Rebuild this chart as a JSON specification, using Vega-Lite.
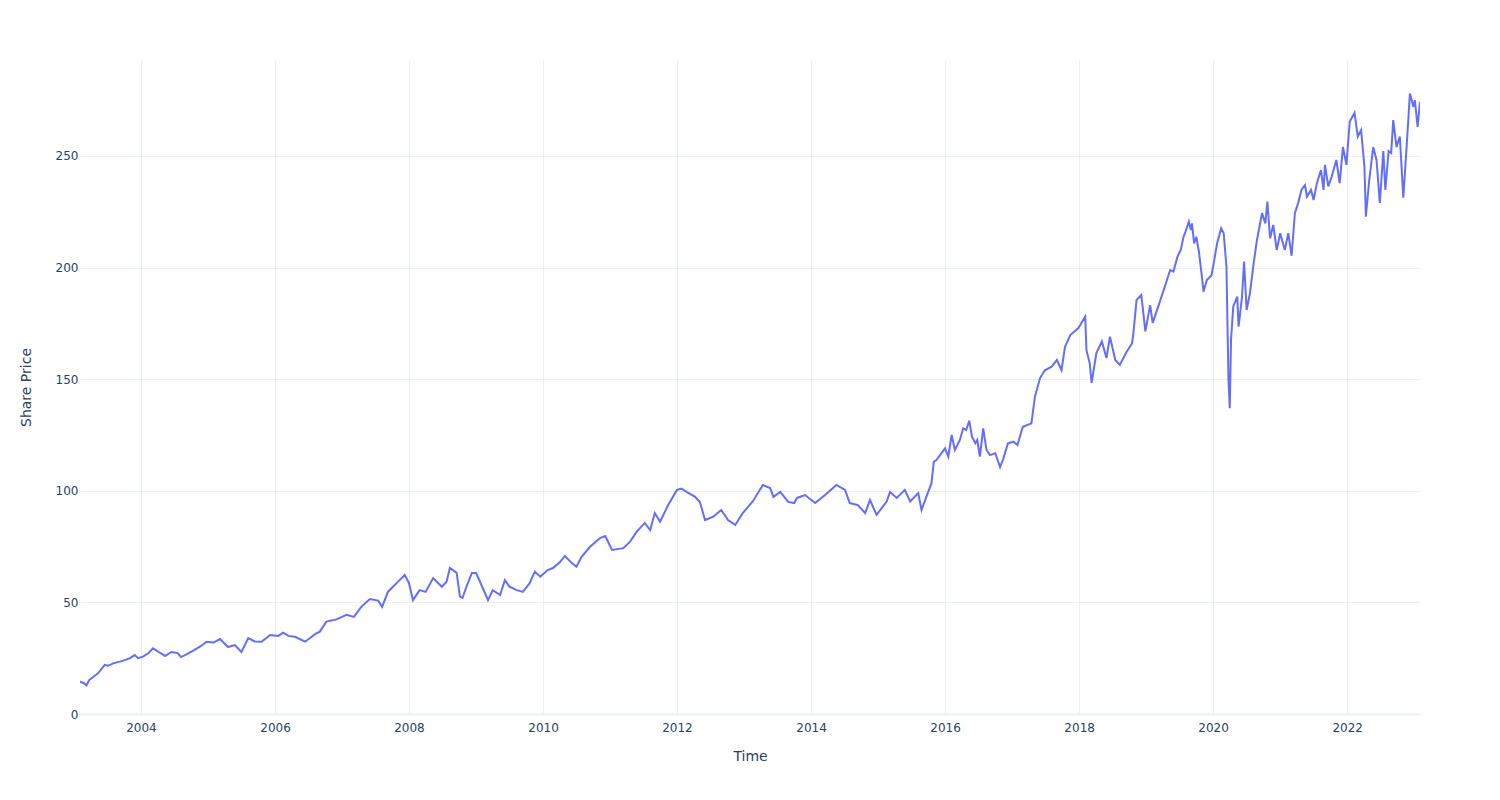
{
  "$schema": "https://vega.github.io/schema/vega-lite/v6.json",
  "autosize": {"type": "none"},
  "width": 1340,
  "height": 654,
  "padding": {"left": 80, "top": 60, "right": 80, "bottom": 86},
  "background": "white",
  "config": {
    "view": {"stroke": null},
    "font": "DejaVu Sans",
    "axis": {
      "labelFont": "DejaVu Sans",
      "titleFont": "DejaVu Sans",
      "labelColor": "#2a3f5f",
      "titleColor": "#2a3f5f",
      "labelFontSize": 12,
      "titleFontSize": 14,
      "titleFontWeight": "normal",
      "gridColor": "#EBF0F8",
      "gridWidth": 1,
      "ticks": false
    }
  },
  "data": {
    "values": [
      {"date": "2003-02-03", "price": 14.5},
      {"date": "2003-02-25", "price": 13.8},
      {"date": "2003-03-10", "price": 12.8},
      {"date": "2003-03-25", "price": 15.2},
      {"date": "2003-05-12", "price": 18.2},
      {"date": "2003-06-18", "price": 22},
      {"date": "2003-07-05", "price": 21.6},
      {"date": "2003-08-03", "price": 22.7},
      {"date": "2003-09-27", "price": 23.9},
      {"date": "2003-11-03", "price": 25},
      {"date": "2003-11-28", "price": 26.4},
      {"date": "2003-12-17", "price": 25},
      {"date": "2004-01-12", "price": 25.7},
      {"date": "2004-02-10", "price": 27.2},
      {"date": "2004-03-07", "price": 29.4},
      {"date": "2004-04-05", "price": 27.9},
      {"date": "2004-05-12", "price": 26},
      {"date": "2004-06-14", "price": 27.8},
      {"date": "2004-07-20", "price": 27.3},
      {"date": "2004-08-07", "price": 25.5},
      {"date": "2004-09-13", "price": 27},
      {"date": "2004-10-19", "price": 28.7},
      {"date": "2004-11-24", "price": 30.5},
      {"date": "2004-12-24", "price": 32.4},
      {"date": "2005-01-30", "price": 32},
      {"date": "2005-03-07", "price": 33.6},
      {"date": "2005-04-20", "price": 30},
      {"date": "2005-05-27", "price": 30.9},
      {"date": "2005-07-02", "price": 27.8},
      {"date": "2005-08-08", "price": 34},
      {"date": "2005-09-13", "price": 32.5},
      {"date": "2005-10-19", "price": 32.4},
      {"date": "2005-12-06", "price": 35.4},
      {"date": "2006-01-19", "price": 35},
      {"date": "2006-02-14", "price": 36.4},
      {"date": "2006-03-15", "price": 35},
      {"date": "2006-04-20", "price": 34.6},
      {"date": "2006-06-14", "price": 32.4},
      {"date": "2006-07-20", "price": 34.6},
      {"date": "2006-08-07", "price": 35.8},
      {"date": "2006-09-02", "price": 36.9},
      {"date": "2006-10-08", "price": 41.4},
      {"date": "2006-12-02", "price": 42.4},
      {"date": "2007-01-01", "price": 43.5},
      {"date": "2007-01-26", "price": 44.4},
      {"date": "2007-03-07", "price": 43.5},
      {"date": "2007-04-16", "price": 48},
      {"date": "2007-06-02", "price": 51.5},
      {"date": "2007-07-17", "price": 50.8},
      {"date": "2007-08-08", "price": 48},
      {"date": "2007-09-09", "price": 54.8},
      {"date": "2007-11-03", "price": 59.3},
      {"date": "2007-12-09", "price": 62.3},
      {"date": "2008-01-01", "price": 58.7},
      {"date": "2008-01-23", "price": 51},
      {"date": "2008-02-28", "price": 55.5},
      {"date": "2008-04-01", "price": 54.7},
      {"date": "2008-05-12", "price": 60.9},
      {"date": "2008-06-28", "price": 57},
      {"date": "2008-07-24", "price": 59.3},
      {"date": "2008-08-11", "price": 65.4},
      {"date": "2008-09-17", "price": 63.2},
      {"date": "2008-10-05", "price": 52.6},
      {"date": "2008-10-19", "price": 52},
      {"date": "2008-11-14", "price": 58},
      {"date": "2008-12-09", "price": 63.2},
      {"date": "2009-01-01", "price": 63.2},
      {"date": "2009-01-30", "price": 57.8},
      {"date": "2009-03-07", "price": 51},
      {"date": "2009-04-02", "price": 55.5},
      {"date": "2009-05-12", "price": 53.3},
      {"date": "2009-06-07", "price": 60},
      {"date": "2009-07-02", "price": 57},
      {"date": "2009-08-11", "price": 55.5},
      {"date": "2009-09-13", "price": 54.7},
      {"date": "2009-10-19", "price": 58.5},
      {"date": "2009-11-17", "price": 63.8},
      {"date": "2009-12-17", "price": 61.5},
      {"date": "2010-01-26", "price": 64.5},
      {"date": "2010-02-24", "price": 65.4},
      {"date": "2010-04-02", "price": 68},
      {"date": "2010-04-30", "price": 70.8},
      {"date": "2010-06-07", "price": 67.6},
      {"date": "2010-07-02", "price": 66},
      {"date": "2010-07-31", "price": 70.5},
      {"date": "2010-09-13", "price": 74.8},
      {"date": "2010-11-07", "price": 78.8},
      {"date": "2010-12-06", "price": 79.7},
      {"date": "2011-01-12", "price": 73.5},
      {"date": "2011-03-15", "price": 74.3},
      {"date": "2011-04-20", "price": 77.2},
      {"date": "2011-05-27", "price": 81.7},
      {"date": "2011-07-09", "price": 85.6},
      {"date": "2011-08-08", "price": 82.4},
      {"date": "2011-09-02", "price": 90},
      {"date": "2011-10-01", "price": 86.2},
      {"date": "2011-11-14", "price": 93.6},
      {"date": "2012-01-01", "price": 100.4},
      {"date": "2012-01-26", "price": 101},
      {"date": "2012-02-22", "price": 99.5},
      {"date": "2012-04-09", "price": 97.3},
      {"date": "2012-05-05", "price": 95},
      {"date": "2012-06-02", "price": 86.9},
      {"date": "2012-07-17", "price": 88.4},
      {"date": "2012-08-29", "price": 91.4},
      {"date": "2012-10-05", "price": 86.9},
      {"date": "2012-11-14", "price": 84.7},
      {"date": "2012-12-24", "price": 90},
      {"date": "2013-02-17", "price": 95.2},
      {"date": "2013-04-13", "price": 102.6},
      {"date": "2013-05-23", "price": 101.2},
      {"date": "2013-06-10", "price": 97.3},
      {"date": "2013-07-17", "price": 99.5},
      {"date": "2013-08-29", "price": 95},
      {"date": "2013-10-01", "price": 94.5},
      {"date": "2013-10-16", "price": 96.8},
      {"date": "2013-11-29", "price": 98.1},
      {"date": "2014-01-23", "price": 94.5},
      {"date": "2014-03-18", "price": 98.1},
      {"date": "2014-05-19", "price": 102.6},
      {"date": "2014-07-05", "price": 100.4},
      {"date": "2014-07-31", "price": 94.5},
      {"date": "2014-09-13", "price": 93.6},
      {"date": "2014-10-23", "price": 90},
      {"date": "2014-11-18", "price": 95.9},
      {"date": "2014-12-24", "price": 89.2},
      {"date": "2015-02-17", "price": 95.2},
      {"date": "2015-03-07", "price": 99.5},
      {"date": "2015-04-13", "price": 96.8},
      {"date": "2015-05-27", "price": 100.4},
      {"date": "2015-06-25", "price": 95.2},
      {"date": "2015-08-08", "price": 99},
      {"date": "2015-08-26", "price": 91.4},
      {"date": "2015-09-21", "price": 97.3},
      {"date": "2015-10-19", "price": 103.3},
      {"date": "2015-11-01", "price": 113},
      {"date": "2015-11-15", "price": 113.8},
      {"date": "2015-12-13", "price": 116.9},
      {"date": "2016-01-01", "price": 119},
      {"date": "2016-01-19", "price": 115.3},
      {"date": "2016-02-06", "price": 125},
      {"date": "2016-02-24", "price": 118.3},
      {"date": "2016-03-22", "price": 122.8},
      {"date": "2016-04-09", "price": 128},
      {"date": "2016-04-25", "price": 127.2},
      {"date": "2016-05-12", "price": 131.4},
      {"date": "2016-05-27", "price": 124.2},
      {"date": "2016-06-14", "price": 121.3},
      {"date": "2016-06-25", "price": 122.8},
      {"date": "2016-07-09", "price": 115.3},
      {"date": "2016-07-27", "price": 128},
      {"date": "2016-08-14", "price": 118.3},
      {"date": "2016-09-02", "price": 116},
      {"date": "2016-10-01", "price": 116.8},
      {"date": "2016-10-27", "price": 110.6},
      {"date": "2016-11-14", "price": 114.4},
      {"date": "2016-12-09", "price": 121.3},
      {"date": "2017-01-08", "price": 122},
      {"date": "2017-01-30", "price": 120.5},
      {"date": "2017-02-28", "price": 128.7},
      {"date": "2017-04-16", "price": 130.2},
      {"date": "2017-05-05", "price": 142.2},
      {"date": "2017-06-02", "price": 150.5},
      {"date": "2017-06-28", "price": 154},
      {"date": "2017-08-04", "price": 155.6},
      {"date": "2017-09-02", "price": 158.6},
      {"date": "2017-09-27", "price": 154},
      {"date": "2017-10-16", "price": 164.5},
      {"date": "2017-11-14", "price": 169.8},
      {"date": "2017-12-28", "price": 172.9},
      {"date": "2018-02-03", "price": 178},
      {"date": "2018-02-10", "price": 163},
      {"date": "2018-02-28", "price": 157},
      {"date": "2018-03-10", "price": 148.3},
      {"date": "2018-04-05", "price": 161.7},
      {"date": "2018-05-05", "price": 166.9},
      {"date": "2018-05-30", "price": 159.5},
      {"date": "2018-06-18", "price": 169},
      {"date": "2018-07-17", "price": 158.6},
      {"date": "2018-08-11", "price": 156.4},
      {"date": "2018-09-17", "price": 162.3},
      {"date": "2018-10-16", "price": 166},
      {"date": "2018-10-23", "price": 169.8},
      {"date": "2018-11-10", "price": 185.5},
      {"date": "2018-12-06", "price": 187.7},
      {"date": "2018-12-28", "price": 171.4},
      {"date": "2019-01-23", "price": 183.2},
      {"date": "2019-02-06", "price": 175.2},
      {"date": "2019-03-18", "price": 185},
      {"date": "2019-04-13", "price": 191.4},
      {"date": "2019-05-12", "price": 198.9},
      {"date": "2019-05-30", "price": 198.2},
      {"date": "2019-06-21", "price": 204.9},
      {"date": "2019-07-09", "price": 207.9},
      {"date": "2019-07-24", "price": 213.8},
      {"date": "2019-08-01", "price": 215.4},
      {"date": "2019-08-22", "price": 220.6},
      {"date": "2019-09-02", "price": 216.8},
      {"date": "2019-09-08", "price": 219.8},
      {"date": "2019-09-20", "price": 210.8},
      {"date": "2019-10-02", "price": 213.8},
      {"date": "2019-10-16", "price": 207.1},
      {"date": "2019-10-30", "price": 197.4},
      {"date": "2019-11-10", "price": 189.2},
      {"date": "2019-11-28", "price": 194.4},
      {"date": "2019-12-24", "price": 196.6},
      {"date": "2020-01-23", "price": 210.8},
      {"date": "2020-02-14", "price": 217.6},
      {"date": "2020-02-28", "price": 215.4},
      {"date": "2020-03-14", "price": 200.4},
      {"date": "2020-03-25", "price": 149.6},
      {"date": "2020-04-01", "price": 137},
      {"date": "2020-04-08", "price": 167.6},
      {"date": "2020-04-20", "price": 182.5},
      {"date": "2020-05-12", "price": 187},
      {"date": "2020-05-19", "price": 173.6},
      {"date": "2020-06-07", "price": 187},
      {"date": "2020-06-18", "price": 202.7},
      {"date": "2020-07-02", "price": 181},
      {"date": "2020-07-20", "price": 188.5},
      {"date": "2020-08-07", "price": 200.4},
      {"date": "2020-08-26", "price": 211.7},
      {"date": "2020-09-24", "price": 224.4},
      {"date": "2020-10-12", "price": 219.8},
      {"date": "2020-10-23", "price": 229.6},
      {"date": "2020-11-07", "price": 213.1},
      {"date": "2020-11-24", "price": 219.1},
      {"date": "2020-12-13", "price": 207.9},
      {"date": "2021-01-01", "price": 215.4},
      {"date": "2021-01-26", "price": 207.9},
      {"date": "2021-02-14", "price": 215.4},
      {"date": "2021-03-04", "price": 205.3},
      {"date": "2021-03-15", "price": 216.8},
      {"date": "2021-03-22", "price": 224.4},
      {"date": "2021-04-09", "price": 229},
      {"date": "2021-04-27", "price": 234.8},
      {"date": "2021-05-16", "price": 237},
      {"date": "2021-05-27", "price": 231.8},
      {"date": "2021-06-18", "price": 234.8},
      {"date": "2021-07-02", "price": 230.3},
      {"date": "2021-07-20", "price": 237.8},
      {"date": "2021-08-11", "price": 243.7},
      {"date": "2021-08-25", "price": 234.8},
      {"date": "2021-09-02", "price": 246},
      {"date": "2021-09-20", "price": 236.4},
      {"date": "2021-10-08", "price": 240.6},
      {"date": "2021-11-03", "price": 248.2},
      {"date": "2021-11-21", "price": 237.8},
      {"date": "2021-12-09", "price": 254},
      {"date": "2021-12-28", "price": 246},
      {"date": "2022-01-15", "price": 265.4},
      {"date": "2022-02-10", "price": 269.3},
      {"date": "2022-02-28", "price": 258.7},
      {"date": "2022-03-18", "price": 261.6},
      {"date": "2022-04-05", "price": 245.3},
      {"date": "2022-04-13", "price": 222.8},
      {"date": "2022-05-01", "price": 239},
      {"date": "2022-05-23", "price": 254},
      {"date": "2022-06-10", "price": 248.2},
      {"date": "2022-06-28", "price": 229},
      {"date": "2022-07-17", "price": 252.2},
      {"date": "2022-07-28", "price": 234.8},
      {"date": "2022-08-15", "price": 252.2},
      {"date": "2022-08-29", "price": 251.3},
      {"date": "2022-09-09", "price": 266.1},
      {"date": "2022-09-27", "price": 254},
      {"date": "2022-10-15", "price": 258.7},
      {"date": "2022-11-03", "price": 231.3},
      {"date": "2022-11-21", "price": 254},
      {"date": "2022-12-09", "price": 278},
      {"date": "2022-12-28", "price": 272},
      {"date": "2023-01-05", "price": 275},
      {"date": "2023-01-20", "price": 263},
      {"date": "2023-02-02", "price": 274.3}
    ]
  },
  "mark": {"type": "line", "color": "#636efa", "strokeWidth": 2, "clip": true},
  "encoding": {
    "x": {
      "field": "date",
      "type": "temporal",
      "title": "Time",
      "scale": {"domain": ["2003-02-03", "2023-02-02"], "nice": false},
      "axis": {
        "format": "%Y",
        "tickCount": {"interval": "year", "step": 2},
        "labelPadding": 8,
        "titlePadding": 16,
        "domainColor": "#EBF0F8",
        "domainWidth": 2,
        "grid": true,
        "labelFlush": false,
        "labelOverlap": false
      }
    },
    "y": {
      "field": "price",
      "type": "quantitative",
      "title": "Share Price",
      "scale": {"domain": [0, 293], "nice": false, "zero": true},
      "axis": {
        "values": [0, 50, 100, 150, 200, 250],
        "labelPadding": 2,
        "titlePadding": 22,
        "domain": false,
        "grid": true
      }
    }
  }
}
